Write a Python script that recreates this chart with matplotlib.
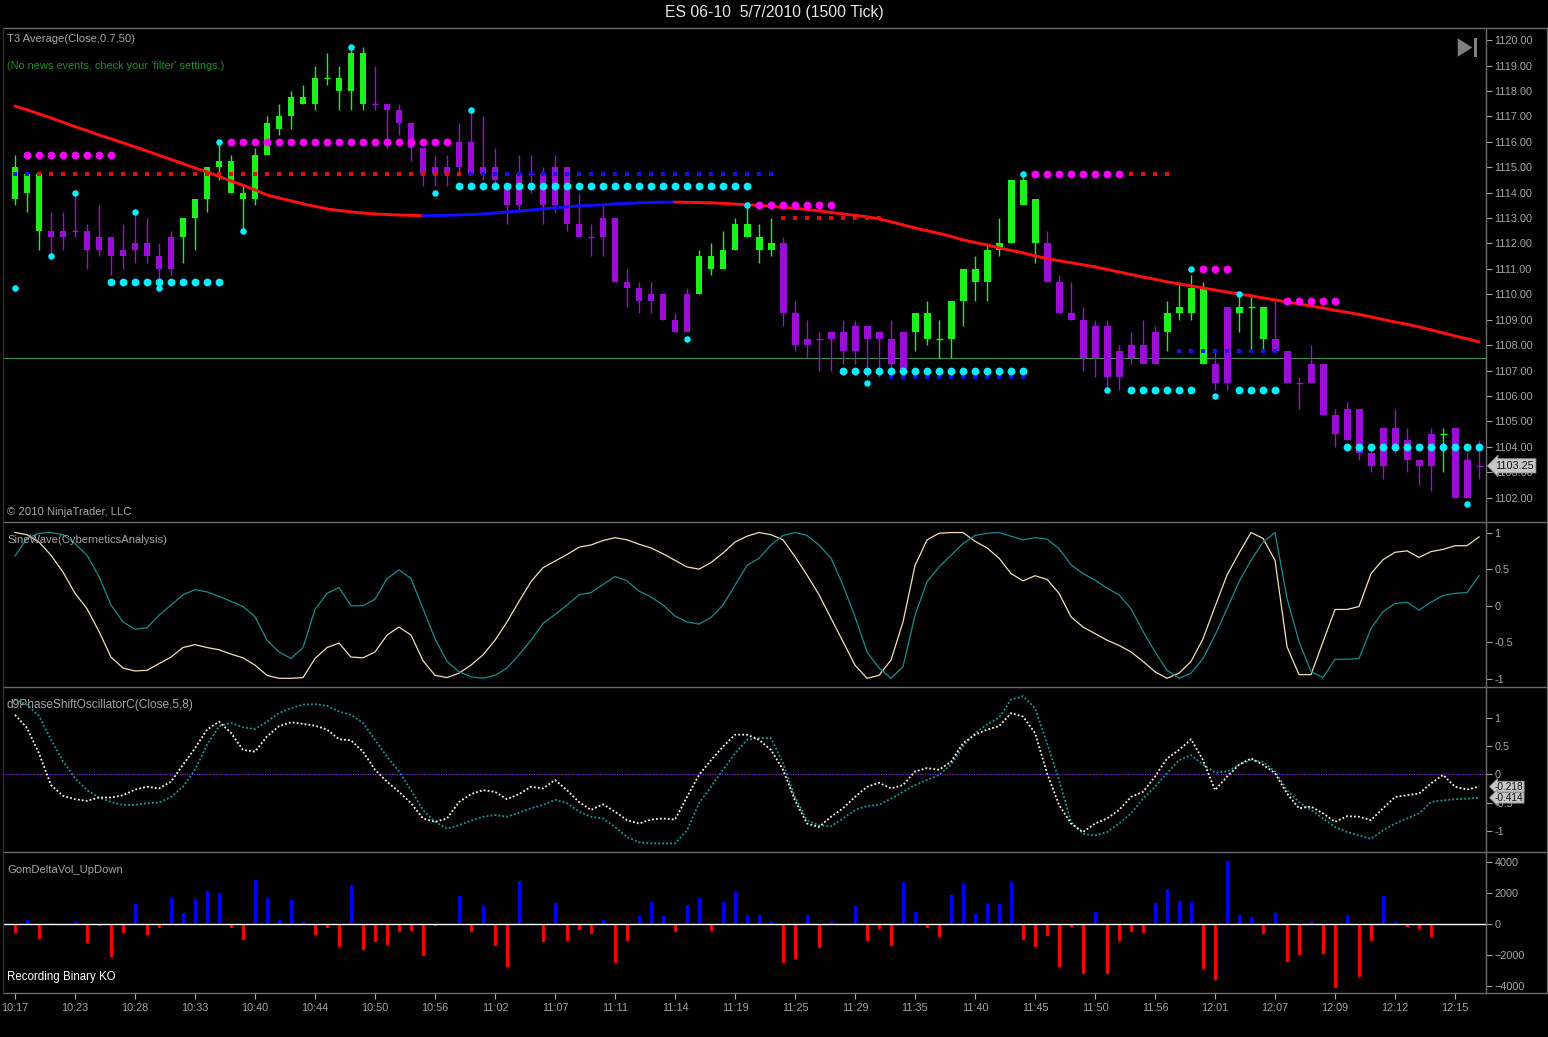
import numpy as np
import matplotlib
matplotlib.use('Agg')
import matplotlib.pyplot as plt
from matplotlib.lines import Line2D
from matplotlib.patches import Polygon
from matplotlib.collections import LineCollection
import matplotlib.transforms as mtransforms
from matplotlib.ticker import FormatStrFormatter

plt.rcParams['font.family'] = ['Liberation Sans', 'DejaVu Sans']

# ---------------- DATA ----------------
opens = [1113.75, 1114.0, 1112.5, 1112.5, 1112.5, 1112.5, 1112.5, 1112.25, 1112.25, 1111.75,
         1112.0, 1112.0, 1111.5, 1112.25, 1112.25, 1113.0, 1113.75, 1115.0, 1114.0, 1113.75,
         1113.75, 1115.5, 1116.5, 1117.0, 1117.5, 1117.5, 1118.5, 1118.0, 1118.0, 1117.5,
         1117.5, 1117.5, 1117.25, 1116.75, 1115.75, 1115.0, 1115.0, 1116.0, 1116.0, 1115.0,
         1115.0, 1114.25, 1114.75, 1114.75, 1114.75, 1115.0, 1115.0, 1112.75, 1112.25, 1113.0,
         1113.0, 1110.5, 1110.25, 1110.0, 1110.0, 1109.0, 1110.0, 1110.0, 1111.0, 1111.0,
         1111.75, 1112.25, 1111.75, 1111.75, 1112.0, 1109.25, 1108.25, 1108.25, 1108.5, 1108.5,
         1108.75, 1108.75, 1108.5, 1108.25, 1108.5, 1108.5, 1108.25, 1108.25, 1108.25, 1109.75,
         1110.5, 1110.5, 1111.75, 1112.0, 1113.5, 1112.0, 1112.0, 1110.5, 1109.25, 1109.0,
         1108.75, 1108.75, 1107.75, 1108.0, 1108.0, 1108.5, 1108.5, 1109.25, 1109.25, 1107.25,
         1107.25, 1109.5, 1109.25, 1109.5, 1108.25, 1108.25, 1107.75, 1106.5, 1107.25, 1107.25,
         1105.25, 1105.5, 1105.5, 1103.75, 1104.75, 1104.75, 1104.25, 1103.5, 1104.5, 1104.5,
         1104.75, 1103.5, 1103.25]
highs = [1115.5, 1114.75, 1114.75, 1113.25, 1113.25, 1114.0, 1112.75, 1113.5, 1112.25, 1112.75,
         1113.25, 1113.0, 1112.0, 1112.5, 1113.0, 1113.75, 1115.0, 1116.0, 1115.5, 1114.25,
         1115.75, 1117.0, 1117.5, 1118.0, 1118.25, 1119.0, 1119.5, 1119.0, 1119.75, 1119.75,
         1119.0, 1117.5, 1117.5, 1116.75, 1115.75, 1115.5, 1115.5, 1116.75, 1117.25, 1117.0,
         1115.75, 1114.25, 1115.5, 1115.5, 1115.0, 1115.5, 1115.0, 1114.0, 1112.75, 1113.5,
         1113.0, 1111.0, 1110.5, 1110.5, 1110.0, 1109.25, 1110.25, 1111.75, 1112.0, 1112.5,
         1113.0, 1113.5, 1112.75, 1113.0, 1112.25, 1109.75, 1109.0, 1108.5, 1108.5, 1109.0,
         1109.0, 1108.75, 1108.5, 1109.0, 1108.5, 1109.25, 1109.75, 1109.0, 1109.75, 1111.0,
         1111.5, 1112.0, 1113.0, 1114.5, 1114.75, 1113.75, 1112.5, 1110.75, 1110.5, 1109.5,
         1109.0, 1109.0, 1108.0, 1108.5, 1109.0, 1108.75, 1109.75, 1110.5, 1110.75, 1110.5,
         1107.75, 1109.5, 1110.0, 1110.0, 1109.5, 1109.75, 1107.75, 1106.75, 1108.0, 1107.25,
         1105.5, 1105.75, 1105.5, 1104.0, 1104.75, 1105.5, 1104.75, 1103.5, 1104.75, 1104.75,
         1104.75, 1103.75, 1104.25]
lows = [1113.5, 1113.25, 1111.75, 1111.5, 1111.75, 1112.25, 1111.0, 1111.5, 1110.75, 1111.0,
        1111.25, 1111.25, 1110.25, 1110.75, 1111.25, 1111.75, 1113.25, 1114.5, 1114.0, 1112.5,
        1113.5, 1115.5, 1116.25, 1116.5, 1117.5, 1117.25, 1118.25, 1117.25, 1117.25, 1117.25,
        1117.25, 1115.75, 1116.25, 1115.25, 1114.25, 1114.25, 1114.25, 1114.75, 1114.75, 1114.5,
        1114.25, 1112.75, 1113.25, 1114.0, 1112.75, 1113.25, 1112.5, 1112.25, 1111.5, 1111.5,
        1110.5, 1109.5, 1109.25, 1109.25, 1109.0, 1108.5, 1108.5, 1110.0, 1110.75, 1111.0,
        1111.75, 1112.25, 1111.25, 1111.5, 1108.75, 1107.75, 1107.5, 1107.0, 1107.0, 1107.25,
        1107.25, 1106.75, 1106.75, 1106.75, 1107.0, 1107.75, 1108.0, 1107.5, 1107.5, 1108.75,
        1109.75, 1109.75, 1111.5, 1112.0, 1113.5, 1111.25, 1110.5, 1109.25, 1109.0, 1107.0,
        1106.75, 1106.25, 1106.25, 1107.25, 1107.25, 1107.25, 1107.75, 1109.0, 1109.0, 1107.25,
        1106.25, 1106.25, 1108.5, 1107.75, 1107.75, 1107.75, 1106.5, 1105.5, 1106.5, 1105.25,
        1104.0, 1104.25, 1103.5, 1103.0, 1102.75, 1103.75, 1103.0, 1102.5, 1102.25, 1103.0,
        1102.0, 1102.0, 1102.75]
closes = [1115.0, 1114.75, 1114.75, 1112.25, 1112.25, 1112.5, 1111.75, 1111.75, 1111.5, 1111.5,
          1111.75, 1111.5, 1111.0, 1111.0, 1113.0, 1113.75, 1115.0, 1115.25, 1115.25, 1114.0,
          1115.5, 1116.75, 1117.0, 1117.75, 1117.75, 1118.5, 1118.5, 1118.5, 1119.5, 1119.5,
          1117.5, 1117.25, 1116.75, 1115.75, 1114.75, 1114.75, 1114.75, 1115.0, 1114.75, 1114.75,
          1114.5, 1113.5, 1113.5, 1114.75, 1113.5, 1113.5, 1112.75, 1112.25, 1112.25, 1112.25,
          1110.5, 1110.25, 1109.75, 1109.75, 1109.0, 1108.5, 1108.5, 1111.5, 1111.5, 1111.75,
          1112.75, 1112.75, 1112.25, 1112.0, 1109.25, 1108.0, 1108.0, 1108.25, 1108.25, 1107.75,
          1107.75, 1108.25, 1108.25, 1107.25, 1107.0, 1109.25, 1109.25, 1108.25, 1109.75, 1111.0,
          1111.0, 1111.75, 1112.0, 1114.5, 1114.5, 1113.75, 1110.5, 1109.25, 1109.0, 1107.5,
          1107.5, 1106.75, 1106.75, 1107.5, 1107.25, 1107.25, 1109.25, 1109.5, 1110.25, 1110.25,
          1106.5, 1106.5, 1109.5, 1109.5, 1109.5, 1107.75, 1106.5, 1106.5, 1106.5, 1105.25,
          1104.5, 1104.25, 1103.75, 1103.25, 1103.25, 1104.0, 1103.5, 1103.25, 1103.25, 1104.5,
          1102.0, 1102.0, 1103.25]
doji_up = [26, 77, 103, 119]

t3_avg = [1117.41, 1117.26, 1117.10, 1116.94, 1116.77, 1116.60, 1116.44, 1116.27, 1116.12, 1115.96,
          1115.80, 1115.64, 1115.47, 1115.31, 1115.14, 1114.97, 1114.82, 1114.64, 1114.46, 1114.29,
          1114.11, 1113.91, 1113.79, 1113.68, 1113.56, 1113.46, 1113.36, 1113.30, 1113.24, 1113.20,
          1113.16, 1113.14, 1113.12, 1113.11, 1113.09, 1113.10, 1113.11, 1113.12, 1113.14, 1113.16,
          1113.20, 1113.24, 1113.28, 1113.32, 1113.36, 1113.40, 1113.44, 1113.48, 1113.50, 1113.52,
          1113.56, 1113.58, 1113.60, 1113.62, 1113.625, 1113.63, 1113.62, 1113.61, 1113.60, 1113.58,
          1113.55, 1113.52, 1113.50, 1113.46, 1113.42, 1113.38, 1113.34, 1113.28, 1113.22, 1113.16,
          1113.11, 1113.05, 1112.97, 1112.85, 1112.73, 1112.61, 1112.50, 1112.40, 1112.28, 1112.14,
          1112.04, 1111.94, 1111.83, 1111.73, 1111.63, 1111.51, 1111.41, 1111.32, 1111.24, 1111.16,
          1111.08, 1110.98, 1110.88, 1110.78, 1110.68, 1110.59, 1110.49, 1110.41, 1110.33, 1110.25,
          1110.17, 1110.09, 1110.01, 1109.94, 1109.86, 1109.78, 1109.70, 1109.62, 1109.54, 1109.46,
          1109.37, 1109.29, 1109.21, 1109.11, 1109.01, 1108.91, 1108.82, 1108.72, 1108.60, 1108.48,
          1108.36, 1108.25, 1108.13]

# resistance (magenta) and support (cyan) dot rows: start bar, end bar, price
res_start = [1, 18, 62, 85, 99, 106]
res_end = [8, 36, 68, 92, 101, 110]
res_price = [1115.5, 1116.0, 1113.5, 1114.75, 1111.0, 1109.75]
sup_start = [8, 37, 69, 93, 102, 111]
sup_end = [17, 61, 84, 98, 105, 122]
sup_price = [1110.5, 1114.25, 1107.0, 1106.25, 1106.25, 1104.0]
# swing point dots
swing_bar = [0, 3, 5, 10, 12, 17, 19, 28, 35, 38, 56, 61, 71, 84, 91, 98, 100, 102, 121]
swing_price = [1110.25, 1111.5, 1114.0, 1113.25, 1110.25, 1116.0, 1112.5, 1119.75, 1114.0, 1117.25,
               1108.25, 1113.5, 1106.5, 1114.75, 1106.25, 1111.0, 1106.0, 1110.0, 1101.75]
# small square stop rows
red_stop_start = [2, 64, 93]
red_stop_end = [37, 72, 96]
red_stop_price = [1114.75, 1113.0, 1114.75]
blue_stop_start = [0, 38, 73, 97]
blue_stop_end = [1, 63, 84, 105]
blue_stop_price = [1114.75, 1114.75, 1106.75, 1107.75]
pivot_level = 1107.5
last_price = 1103.25

sine_wave = [1.0, 0.97, 0.87, 0.69, 0.46, 0.17, -0.04, -0.35, -0.70, -0.85,
             -0.89, -0.88, -0.79, -0.70, -0.57, -0.53, -0.57, -0.60, -0.66, -0.71,
             -0.81, -0.95, -0.99, -0.99, -0.98, -0.72, -0.57, -0.51, -0.70, -0.71,
             -0.63, -0.40, -0.29, -0.40, -0.75, -0.95, -0.98, -0.92, -0.81, -0.67,
             -0.47, -0.22, 0.06, 0.33, 0.52, 0.61, 0.70, 0.80, 0.83, 0.89,
             0.93, 0.90, 0.84, 0.79, 0.71, 0.62, 0.53, 0.50, 0.59, 0.72,
             0.87, 0.95,
             1.0, 0.97, 0.90, 0.67, 0.42, 0.15, -0.17, -0.49, -0.81, -0.99,
             -0.95, -0.74, -0.22, 0.55, 0.90, 0.99, 1.0, 1.0, 0.88, 0.79,
             0.65, 0.44, 0.34, 0.41, 0.36, 0.17, -0.15, -0.29, -0.38, -0.47,
             -0.54, -0.63, -0.76, -0.90, -0.99, -0.92, -0.76, -0.45, -0.01, 0.42,
             0.72, 1.0, 0.92, 0.62, -0.56, -0.94, -0.94, -0.49, -0.05, -0.05,
             -0.01, 0.44, 0.63, 0.73, 0.75, 0.66, 0.74, 0.77, 0.82, 0.82,
             0.94]
lead_sine = [0.68, 0.92, 0.99, 1.0, 0.97, 0.85, 0.69, 0.40, 0.01, -0.22,
             -0.32, -0.30, -0.13, 0.01, 0.15, 0.22, 0.19, 0.13, 0.06, -0.01,
             -0.15, -0.47, -0.63, -0.72, -0.57, -0.05, 0.17, 0.25, 0.00, 0.00,
             0.09, 0.37, 0.49, 0.37, -0.04, -0.45, -0.76, -0.90, -0.97, -0.99,
             -0.95, -0.85, -0.67, -0.47, -0.24, -0.12, 0.01, 0.15, 0.18, 0.29,
             0.40, 0.34, 0.20, 0.12, 0.01, -0.14, -0.22, -0.25, -0.16, 0.01,
             0.28, 0.55,
             0.65, 0.83, 0.96, 1.0, 0.96, 0.83, 0.65, 0.28, -0.15, -0.63,
             -0.85, -0.99, -0.83, -0.13, 0.33, 0.53, 0.69, 0.85, 0.96, 0.99,
             1.0, 0.95, 0.90, 0.93, 0.91, 0.78, 0.56, 0.44, 0.35, 0.24,
             0.15, -0.04, -0.35, -0.63, -0.88, -0.99, -0.92, -0.72, -0.40, -0.04,
             0.33, 0.62, 0.87, 1.0, 0.10, -0.49, -0.90, -0.98, -0.73, -0.73,
             -0.72, -0.31, -0.08, 0.03, 0.05, -0.06, 0.05, 0.14, 0.17, 0.18,
             0.41]

phase_fast = [1.05, 0.82, 0.37, -0.19, -0.38, -0.44, -0.47, -0.41, -0.41, -0.37,
              -0.27, -0.22, -0.25, -0.13, 0.17, 0.46, 0.79, 0.93, 0.73, 0.43,
              0.40, 0.67, 0.85, 0.92, 0.89, 0.86, 0.79, 0.62, 0.60, 0.40,
              0.08, -0.13, -0.31, -0.51, -0.78, -0.84, -0.78, -0.49, -0.35, -0.28,
              -0.31, -0.44, -0.35, -0.22, -0.25, -0.10, -0.28, -0.49, -0.63, -0.53,
              -0.66, -0.81, -0.87, -0.80, -0.78, -0.80, -0.40, -0.01, 0.25, 0.49,
              0.70, 0.70,
              0.61, 0.43, 0.08, -0.46, -0.87, -0.93, -0.75, -0.60, -0.40, -0.22,
              -0.15, -0.25, -0.19, 0.05, 0.11, 0.08, 0.22, 0.55, 0.70, 0.79,
              0.85, 1.08, 1.02, 0.73, 0.02, -0.54, -0.87, -1.02, -0.87, -0.78,
              -0.63, -0.40, -0.31, -0.04, 0.28, 0.43, 0.62, 0.25, -0.28, -0.04,
              0.17, 0.28, 0.17, 0.02, -0.34, -0.60, -0.57, -0.69, -0.84, -0.74,
              -0.75, -0.81, -0.60, -0.40, -0.37, -0.34, -0.16, -0.01, -0.22, -0.27,
              -0.218]
phase_slow = [1.32, 1.23, 1.03, 0.61, 0.23, -0.07, -0.28, -0.41, -0.49, -0.54,
              -0.54, -0.51, -0.50, -0.40, -0.22, 0.08, 0.52, 0.85, 0.91, 0.83,
              0.80, 0.93, 1.08, 1.17, 1.23, 1.24, 1.21, 1.11, 1.05, 0.91,
              0.61, 0.31, 0.05, -0.28, -0.63, -0.84, -0.96, -0.90, -0.82, -0.75,
              -0.72, -0.75, -0.68, -0.60, -0.54, -0.45, -0.51, -0.66, -0.75, -0.78,
              -0.93, -1.11, -1.20, -1.22, -1.22, -1.22, -0.99, -0.51, -0.22, 0.08,
              0.37, 0.61,
              0.64, 0.64, 0.20, -0.40, -0.81, -0.90, -0.92, -0.78, -0.63, -0.56,
              -0.54, -0.43, -0.31, -0.19, -0.10, -0.01, 0.17, 0.49, 0.73, 0.88,
              1.0, 1.32, 1.38, 1.17, 0.55, -0.10, -0.84, -1.05, -1.08, -1.02,
              -0.87, -0.69, -0.43, -0.22, 0.02, 0.25, 0.34, 0.17, 0.03, 0.05,
              0.17, 0.25, 0.22, 0.05, -0.28, -0.49, -0.63, -0.78, -0.93, -1.02,
              -1.08, -1.14, -0.99, -0.87, -0.78, -0.69, -0.49, -0.46, -0.44, -0.43,
              -0.414]

delta_vol = [-540, 280, -950, 65, 0, 130, -1230, -80, -2090, -540,
             1315, -690, -215, 1680, 710, 1640, 2180, 2030, -215, -1010,
             2870, 1680, 280, 1575, 170, -690, -215, -1445, 2540, -1660,
             -1120, -1340, -475, -430, -2030, -110, -45, 1830, -475, 1185,
             -1380, -2740, 2825, 65, -1165, 1360, -1055, -365, -625, 280,
             -2520, -1080, 540, 1465, 540, -520, 1250, 1725, -430, 1465,
             2110, 580,
             600, 240, -2480, -2240, 600, -1550, 170, 0, 1210, -1080,
             -300, -1380, 2760, 820, -215, -800, 1900, 2700, 670, 1340,
             1340, 2760, -1010, -1445, -730, -2740, -150, -3190, 800, -3190,
             -1080, -475, -560, 1380, 2260, 1490, 1465, -2890, -3600, 4120,
             600, 500, -625, 755, -2460, -1980, 170, -1920, -4140, 600,
             -3385, -1080, 1810, 170, -150, -300, -800, 0, 0, 0,
             0]

time_labels = ["10:17", "10:23", "10:28", "10:33", "10:40", "10:44", "10:50", "10:56", "11:02",
               "11:07", "11:11", "11:14", "11:19", "11:25", "11:29", "11:35", "11:40", "11:45",
               "11:50", "11:56", "12:01", "12:07", "12:09", "12:12", "12:15"]
time_label_bars = list(range(0, 121, 5))

price_ticks = list(range(1102, 1121))
osc_ticks = [1, 0.5, 0, -0.5, -1]
delta_ticks = [4000, 2000, 0, -2000, -4000]

# ---------------- STYLE ----------------
GRAY = '#a4a4a4'
LINE = '#6c6c6c'
GREEN = '#1ef01e'
PURPLE = '#9a0fd6'
MAGENTA = '#ff00ff'
CYAN = '#00f0ff'
W, H = 1548, 1037
X0, X1 = 3, 1486
LBL = 8.1

fig = plt.figure(figsize=(W / 100, H / 100), dpi=100, facecolor='black')


def px_axes(y0, y1):
    ax = fig.add_axes([X0 / W, 1 - y1 / H, (X1 - X0) / W, (y1 - y0) / H])
    ax.set_facecolor('black')
    for s in ax.spines.values():
        s.set_visible(False)
    ax.set_xlim(-1, 122.58)
    ax.yaxis.tick_right()
    ax.tick_params(axis='y', colors=GRAY, labelsize=7.8, length=4, width=0.8, pad=2)
    ax.set_xticks([])
    return ax


def figline(x0, y0, x1, y1, color=LINE, lw=1.0):
    fig.add_artist(Line2D([x0 / W, x1 / W], [1 - y0 / H, 1 - y1 / H], transform=fig.transFigure,
                          color=color, lw=lw))


def figtext(x, y, s, color=GRAY, size=LBL, ha='left', **kw):
    fig.text(x / W, 1 - y / H, s, color=color, fontsize=size, ha=ha, va='center', **kw)


n = len(closes)
x = np.arange(n)
o = np.array(opens); h = np.array(highs); l = np.array(lows); c = np.array(closes)

# ---- price panel ----
axp = px_axes(28, 521)
axp.set_ylim(1101.08, 1120.48)
axp.set_yticks(price_ticks)
axp.yaxis.set_major_formatter(FormatStrFormatter('%.2f'))
axp.axhline(pivot_level, color='#3d8f55', lw=0.8, zorder=1)

up = (c > o) | ((c == o) & np.isin(x, doji_up))
cols = np.where(up, GREEN, PURPLE)
axp.vlines(x, l, h, colors=cols, lw=1.0, zorder=2)
bh = np.abs(c - o)
nz = bh > 0
axp.bar(x[nz], bh[nz], bottom=np.minimum(o, c)[nz], width=0.58, color=cols[nz], lw=0, zorder=3)
axp.hlines(o[~nz], x[~nz] - 0.29, x[~nz] + 0.29, colors=cols[~nz], lw=1.0, zorder=3)

t3 = np.array(t3_avg)
pts = np.column_stack([x, t3])
segs = np.stack([pts[:-1], pts[1:]], axis=1)
seg_cols = ['#1010ff' if t3[i + 1] > t3[i] else '#ff1010' for i in range(n - 1)]
axp.add_collection(LineCollection(segs, colors=seg_cols, linewidths=2.1, zorder=4, capstyle='round'))

for s0, s1, p in zip(red_stop_start, red_stop_end, red_stop_price):
    xs = np.arange(s0, s1 + 1)
    axp.scatter(xs, np.full(len(xs), p), marker='s', s=6.5, color='#e01010', lw=0, zorder=5)
for s0, s1, p in zip(blue_stop_start, blue_stop_end, blue_stop_price):
    xs = np.arange(s0, s1 + 1)
    axp.scatter(xs, np.full(len(xs), p), marker='s', s=6.5, color='#1414e6', lw=0, zorder=5)
for s0, s1, p in zip(res_start, res_end, res_price):
    xs = np.arange(s0, s1 + 1)
    axp.scatter(xs, np.full(len(xs), p), s=32, color=MAGENTA, lw=0, zorder=6)
for s0, s1, p in zip(sup_start, sup_end, sup_price):
    xs = np.arange(s0, s1 + 1)
    axp.scatter(xs, np.full(len(xs), p), s=32, color=CYAN, lw=0, zorder=6)
axp.scatter(swing_bar, swing_price, s=22, color=CYAN, lw=0, zorder=6)

trans_p = mtransforms.blended_transform_factory(axp.transAxes, axp.transData)
axp.text(1 + 9 / 1483, last_price, f'{last_price:.2f}', transform=trans_p, ha='left', va='center',
         fontsize=7.8, color='#151515', clip_on=False, zorder=10,
         bbox=dict(boxstyle='larrow,pad=0.2', fc='#c6c6c6', ec='#8a8a8a', lw=0.6))

# ---- sine wave panel ----
axs = px_axes(523, 686)
axs.set_ylim(-1.095, 1.13)
axs.set_yticks(osc_ticks)
axs.set_yticklabels(['1', '0.5', '0', '-0.5', '-1'])
axs.plot(x, sine_wave, color='#f3dfb8', lw=0.9)
axs.plot(x, lead_sine, color='#1a8c8c', lw=0.9)

# ---- phase shift panel ----
axo = px_axes(688, 851)
axo.set_ylim(-1.355, 1.525)
axo.set_yticks(osc_ticks)
axo.set_yticklabels(['1', '0.5', '0', '-0.5', '-1'])
axo.axhline(0, color='#8a2be2', lw=0.8, ls=(0, (1, 1.2)))
axo.plot(x, phase_slow, color='#1a9a9a', lw=1.3, ls=(0, (1, 1.2)))
axo.plot(x, phase_fast, color='#fff6dc', lw=1.3, ls=(0, (1, 1.2)))
trans_o = mtransforms.blended_transform_factory(axo.transAxes, axo.transData)
for v in (phase_fast[-1], phase_slow[-1]):
    axo.text(1 + 9 / 1483, v, f'{v:.3f}', transform=trans_o, ha='left', va='center',
             fontsize=7.3, color='#151515', clip_on=False, zorder=10,
             bbox=dict(boxstyle='larrow,pad=0.04', fc='#c6c6c6', ec='#8a8a8a', lw=0.6))

# ---- delta volume panel ----
axd = px_axes(853, 993)
axd.set_ylim(-4445, 4610)
axd.set_yticks(delta_ticks)
dv = np.array(delta_vol)
axd.bar(x, dv, width=0.25, color=np.where(dv > 0, '#0000ff', '#ff0000'), lw=0, zorder=2)
axd.axhline(0, color='white', lw=1.0, zorder=3)
axd.set_xticks(time_label_bars)
axd.set_xticklabels(time_labels)
axd.tick_params(axis='x', colors=GRAY, labelsize=7.8, length=4, width=0.8, pad=3, direction='out')

# ---- frame lines ----
for yy in (27.5, 522, 687, 852, 993):
    figline(X0, yy, 1547, yy)
figline(X1, 27.5, X1, 993)
figline(1547, 27.5, 1547, 993)
figline(X0, 27.5, X0, 993, color='#303030')

# ---- texts ----
figtext(774, 12, 'ES 06-10  5/7/2010 (1500 Tick)', color='#e6e6e6', size=11.3, ha='center')
figtext(7, 39, 'T3 Average(Close,0.7,50)')
figtext(7, 66, "(No news events, check your 'filter' settings.)", color='#1f8f1f', size=7.9)
figtext(7, 512, '\u00a9 2010 NinjaTrader, LLC')
figtext(7, 540, 'SineWave(CyberneticsAnalysis)')
figtext(7, 705, 'd9PhaseShiftOscillatorC(Close,5,8)', size=8.6)
figtext(7, 870, 'GomDeltaVol_UpDown')
figtext(7, 977, 'Recording Binary KO', color='white', size=8.3)

# ---- scroll icon ----
tri = [(1457.7, 38.3), (1472.3, 47.5), (1457.7, 56.7)]
fig.add_artist(Polygon([(px / W, 1 - py / H) for px, py in tri], closed=True,
                       transform=fig.transFigure, fc='#808080', ec='none'))
bar_pts = [(1474.3, 38.3), (1477.3, 38.3), (1477.3, 56.7), (1474.3, 56.7)]
fig.add_artist(Polygon([(px / W, 1 - py / H) for px, py in bar_pts], closed=True,
                       transform=fig.transFigure, fc='#808080', ec='none'))

fig.savefig('out.png', dpi=100, facecolor='black')
